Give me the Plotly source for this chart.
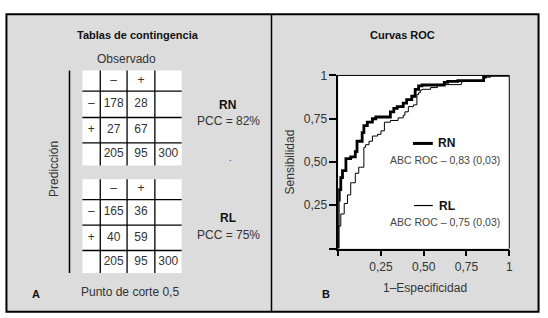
import plotly.graph_objects as go

W, H = 548, 318

# ---------------- data ----------------
obs_labels = ["–", "+"]
pred_labels = ["–", "+"]
rn_counts = [[178, 28], [27, 67]]
rl_counts = [[165, 36], [40, 59]]
col_totals = [205, 95]
grand_total = 300
rn_pcc = 82
rl_pcc = 75
cut_point = "0,5"

rn_fpr = [0, 0, 0, 0.006, 0.015, 0.025, 0.045, 0.073, 0.10, 0.11, 0.14, 0.15, 0.17, 0.20,
          0.22, 0.25, 0.305, 0.325, 0.345, 0.38, 0.40, 0.43, 0.45, 0.47, 0.49, 0.62,
          0.64, 0.70, 0.85, 0.86, 1.0]
rn_tpr = [0, 0.04, 0.15, 0.28, 0.34, 0.41, 0.45, 0.52, 0.53, 0.56, 0.62, 0.67, 0.71, 0.73,
          0.75, 0.76, 0.76, 0.79, 0.81, 0.82, 0.84, 0.86, 0.88, 0.92, 0.94, 0.945,
          0.96, 0.966, 0.97, 0.99, 1.0]

rl_fpr = [0, 0, 0.005, 0.015, 0.015, 0.035, 0.035, 0.054, 0.054, 0.073, 0.083, 0.10, 0.10,
          0.12, 0.13, 0.15, 0.15, 0.16, 0.18, 0.20, 0.23, 0.25, 0.27, 0.305, 0.35, 0.38,
          0.39, 0.41, 0.44, 0.46, 0.47, 0.48, 0.49, 0.54, 0.58, 0.61, 0.72, 0.725, 0.85,
          0.89, 1.0]
rl_tpr = [0, 0.03, 0.13, 0.13, 0.20, 0.20, 0.26, 0.26, 0.31, 0.31, 0.38, 0.38, 0.42,
          0.435, 0.47, 0.47, 0.51, 0.585, 0.60, 0.62, 0.65, 0.66, 0.68, 0.73, 0.74, 0.755,
          0.77, 0.79, 0.82, 0.83, 0.89, 0.90, 0.915, 0.92, 0.93, 0.945, 0.947, 0.96, 0.97,
          0.99, 1.0]

rn_auc, rn_se = "0,83", "0,03"
rl_auc, rl_se = "0,75", "0,03"

roc_tickvals = [0, 0.25, 0.5, 0.75, 1]
roc_ticktext = ["", "0,25", "0,50", "0,75", "1"]

# ---------------- layout constants ----------------
FONT = "Liberation Sans, Arial, sans-serif"
TXT = "#333333"
BG = "#dcdcdc"

col_edges = [83, 101, 128, 156, 183]
t1_rows = [65, 86, 113, 139, 162]
t2_rows = [176, 197, 223, 249, 272]

ROC_X = [340.7, 513]   # pixel extent of ROC plot area
ROC_Y = [70, 247]


def pxx(x):
    return x / W


def pxy(y):
    return 1 - y / H


fig = go.Figure()

shapes = []
shapes.append(dict(type="rect", xref="paper", yref="paper", x0=pxx(6.5), x1=pxx(542.5),
                   y0=pxy(7.5), y1=pxy(311.5), fillcolor=BG,
                   line=dict(color="black", width=2), layer="below"))
shapes.append(dict(type="line", xref="paper", yref="paper", x0=pxx(273.5), x1=pxx(273.5),
                   y0=pxy(7.5), y1=pxy(311.5), line=dict(color="black", width=1.5),
                   layer="below"))

tx, ty, tt = [], [], []


def add_table(counts, rows):
    shapes.append(dict(type="rect", xref="x2", yref="y2", x0=col_edges[0], x1=col_edges[-1],
                       y0=rows[0], y1=rows[-1], fillcolor="white", line=dict(width=0),
                       layer="below"))
    for xe in col_edges[1:-1]:
        shapes.append(dict(type="line", xref="x2", yref="y2", x0=xe, x1=xe, y0=rows[0],
                           y1=rows[-1], line=dict(color="black", width=1.3), layer="below"))
    for ye in rows[1:-1]:
        shapes.append(dict(type="line", xref="x2", yref="y2", x0=col_edges[0],
                           x1=col_edges[-1], y0=ye, y1=ye,
                           line=dict(color="black", width=1.3), layer="below"))
    grid = [
        ["", obs_labels[0], obs_labels[1], ""],
        [pred_labels[0], str(counts[0][0]), str(counts[0][1]), ""],
        [pred_labels[1], str(counts[1][0]), str(counts[1][1]), ""],
        ["", str(col_totals[0]), str(col_totals[1]), str(grand_total)],
    ]
    for r in range(4):
        for c in range(4):
            if grid[r][c]:
                tx.append((col_edges[c] + col_edges[c + 1]) / 2)
                ty.append((rows[r] + rows[r + 1]) / 2)
                tt.append(grid[r][c])


add_table(rn_counts, t1_rows)
add_table(rl_counts, t2_rows)

fig.add_trace(go.Scatter(x=tx, y=ty, text=tt, mode="text", xaxis="x2", yaxis="y2",
                         textfont=dict(family=FONT, size=12, color=TXT),
                         textposition="middle center", hoverinfo="skip", showlegend=False))

shapes.append(dict(type="line", xref="x2", yref="y2", x0=70, x1=70, y0=65, y1=272,
                   line=dict(color="black", width=1.5)))

# ---------------- ROC ----------------
shapes.append(dict(type="rect", xref="x", yref="y", x0=0, x1=1, y0=0, y1=1,
                   fillcolor="white", line=dict(width=0), layer="below"))

fig.add_trace(go.Scatter(x=rl_fpr, y=rl_tpr, mode="lines", line=dict(color="black", width=1,
                         shape="vh"), hoverinfo="skip", showlegend=False))
fig.add_trace(go.Scatter(x=rn_fpr, y=rn_tpr, mode="lines", line=dict(color="black", width=2.8,
                         shape="vh"), hoverinfo="skip", showlegend=False))

# thin top and right frame of the ROC box
shapes.append(dict(type="line", xref="paper", yref="paper", x0=pxx(ROC_X[0]), x1=pxx(ROC_X[1]),
                   y0=pxy(ROC_Y[0]), y1=pxy(ROC_Y[0]), line=dict(color="black", width=1)))
shapes.append(dict(type="line", xref="paper", yref="paper", x0=pxx(ROC_X[1]), x1=pxx(ROC_X[1]),
                   y0=pxy(ROC_Y[0]), y1=pxy(ROC_Y[1]), line=dict(color="black", width=1)))

shapes.append(dict(type="line", xref="paper", yref="paper", x0=pxx(416), x1=pxx(436),
                   y0=pxy(139.5), y1=pxy(139.5), line=dict(color="black", width=3)))
shapes.append(dict(type="line", xref="paper", yref="paper", x0=pxx(417), x1=pxx(436),
                   y0=pxy(203), y1=pxy(203), line=dict(color="black", width=1.2)))

annotations = []


def ann(x, y, text, size=12, bold=False, color=TXT, angle=0, xanchor="center"):
    annotations.append(dict(
        x=pxx(x), y=pxy(y), xref="paper", yref="paper", showarrow=False,
        text=f"<b>{text}</b>" if bold else text, textangle=angle,
        xanchor=xanchor, yanchor="middle",
        font=dict(family=FONT, size=size, color=color)))


ann(139, 29, "Tablas de contingencia", 11, True, "#111")
ann(127, 53, "Observado", 12)
ann(55, 166, "Predicción", 12, angle=-90)
ann(229, 100, "RN", 12, True, "#111")
ann(230, 117, f"PCC = {rn_pcc}%", 12)
ann(232, 154, ".", 9)
ann(230, 216, "RL", 12, True, "#111")
ann(230, 233, f"PCC = {rl_pcc}%", 12)
ann(36, 293, "A", 11, True, "#111")
ann(131, 291, f"Punto de corte {cut_point}", 12)

ann(405, 29, "Curvas ROC", 11, True, "#111")
ann(292, 158, "Sensibilidad", 12, angle=-90)
ann(428, 287, "1–Especificidad", 12)
ann(450, 139.5, "RN", 12, True, "#111")
ann(448, 156, f"ABC ROC – {rn_auc} ({rn_se})", 10.5, color="#444")
ann(450, 203, "RL", 12, True, "#111")
ann(448, 220, f"ABC ROC – {rl_auc} ({rl_se})", 10.5, color="#444")
ann(328, 293, "B", 11, True, "#111")

axis_common = dict(range=[0, 1], showline=True, linecolor="black", linewidth=1.5, mirror=False,
                   ticks="outside", tickwidth=1.5, tickcolor="black", showgrid=False,
                   zeroline=False, tickvals=roc_tickvals, ticktext=roc_ticktext,
                   tickfont=dict(family=FONT, size=12, color=TXT), fixedrange=True)

fig.update_layout(
    width=W, height=H, autosize=False,
    margin=dict(l=0, r=0, t=0, b=0, pad=0),
    paper_bgcolor="white", plot_bgcolor="rgba(0,0,0,0)",
    showlegend=False,
    xaxis=dict(domain=[ROC_X[0] / W, ROC_X[1] / W], anchor="y", ticklen=6, **axis_common),
    yaxis=dict(domain=[1 - ROC_Y[1] / H, 1 - ROC_Y[0] / H], anchor="x", ticklen=7,
               **axis_common),
    xaxis2=dict(domain=[0, 274 / W], range=[0, 274], visible=False, anchor="y2",
                fixedrange=True),
    yaxis2=dict(domain=[0, 1], range=[H, 0], visible=False, anchor="x2", fixedrange=True),
    shapes=shapes,
    annotations=annotations,
)

post = ("document.body.style.margin='0';document.body.style.padding='0';"
        "var d=document.getElementById('{plot_id}');"
        "d.style.position='absolute';d.style.left='0px';d.style.top='0px';")

fig.write_html("out.html", config={"displayModeBar": False}, post_script=post)
